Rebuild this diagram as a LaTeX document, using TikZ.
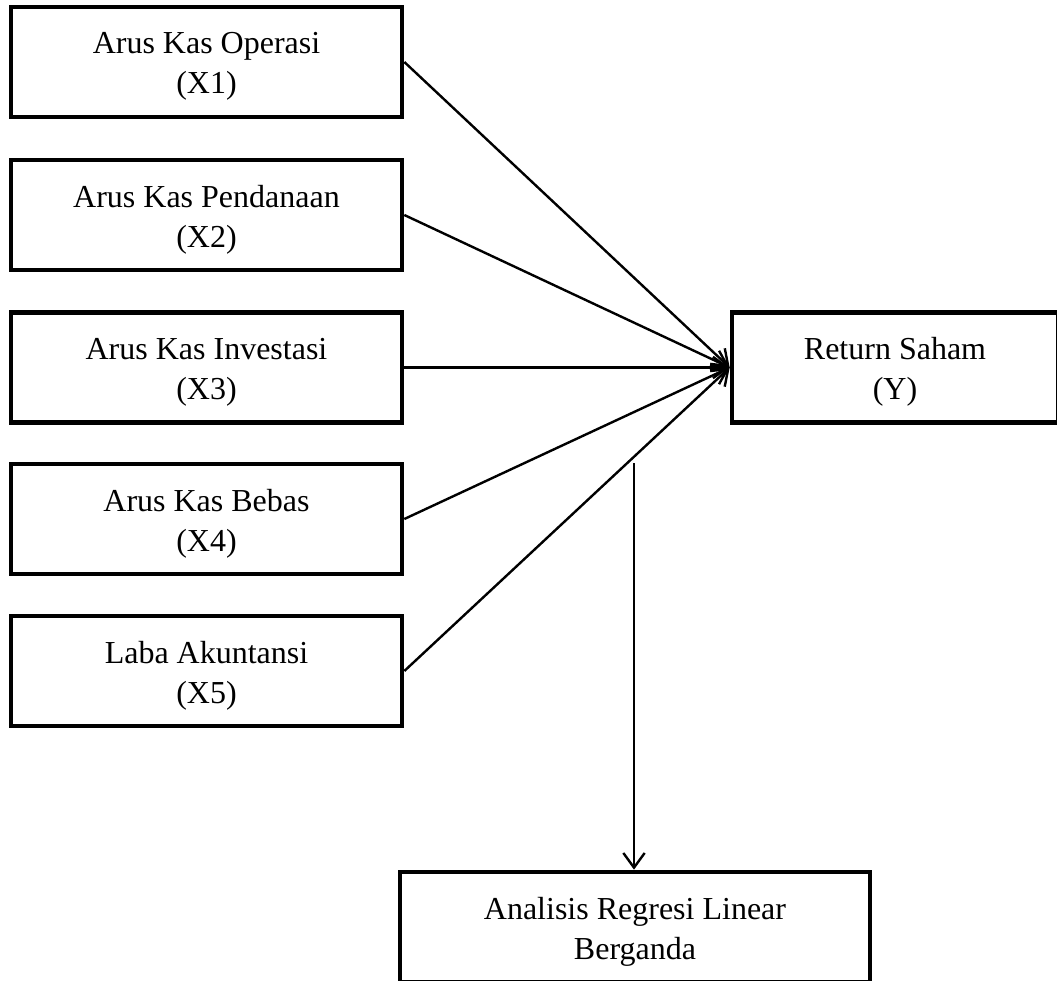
\documentclass[tikz,border=0pt]{standalone}
\usepackage{fontspec}
\setmainfont{Liberation Serif}
\usetikzlibrary{arrows.meta}
\begin{document}
\begin{tikzpicture}[x=0.75pt,y=-0.75pt,
  box/.style={draw,line width=3.5pt,inner sep=0pt,
    minimum width=293.25pt,minimum height=82.5pt},
  lbl/.style={font=\fontsize{24}{30}\selectfont,align=center,inner sep=0pt,yshift=-3.5pt},
  conn/.style={line width=1.8pt,-{Straight Barb[length=11pt,width=16pt,line width=1.8pt]}}]
\useasboundingbox (0,0) rectangle (1057,981);
\node[box,label={[lbl]center:{Arus Kas Operasi\\(X1)}}] (x1) at (206.5,62) {};
\node[box,label={[lbl]center:{Arus Kas Pendanaan\\(X2)}}] (x2) at (206.5,215) {};
\node[box,label={[lbl]center:{Arus Kas Investasi\\(X3)}}] (x3) at (206.5,367.5) {};
\node[box,label={[lbl]center:{Arus Kas Bebas\\(X4)}}] (x4) at (206.5,519) {};
\node[box,label={[lbl]center:{Laba Akuntansi\\(X5)}}] (x5) at (206.5,671) {};
\node[box,minimum width=244.5pt,label={[lbl]center:{Return Saham\\(Y)}}] (y) at (895,367.5) {};
\node[box,minimum width=352.5pt,label={[lbl]center:{Analisis Regresi Linear\\Berganda}}] (ar) at (635,927) {};
\foreach \n in {x1,x2,x3,x4,x5}{\draw[conn] (\n.east) -- (y.west);}
\coordinate (v) at (634,463);
\draw[conn] (v) -- (v |- ar.north);
\end{tikzpicture}
\end{document}
